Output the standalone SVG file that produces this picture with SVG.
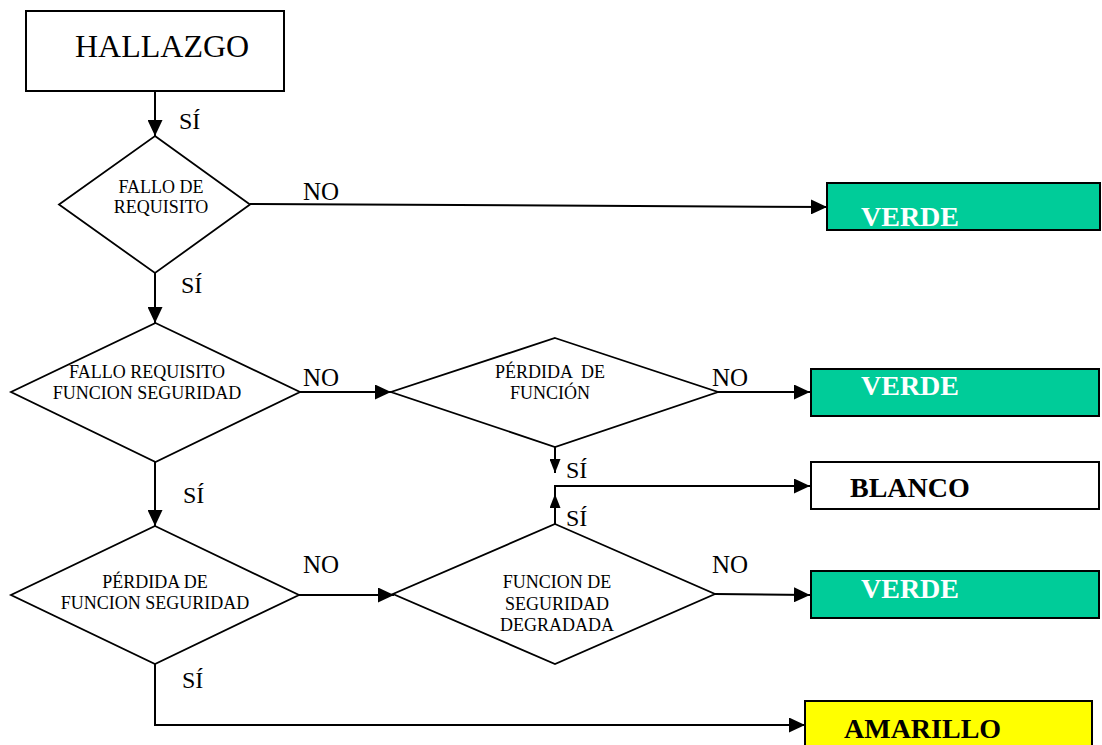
<svg xmlns="http://www.w3.org/2000/svg" width="1102" height="745" viewBox="0 0 1102 745">
<style>
  .box { stroke: #000; stroke-width: 2; }
  .dia { fill: #fff; stroke: #000; stroke-width: 1.8; }
  .conn { fill: none; stroke: #000; stroke-width: 2; }
  .t { font-family: "Liberation Serif", "Times New Roman", serif; fill: #000; }
  .dt { font-size: 18px; text-anchor: middle; }
  .si { font-size: 24px; }
  .no { font-size: 25px; }
  .res { font-size: 28px; font-weight: bold; }
</style>
<defs>
  <marker id="arr" markerUnits="userSpaceOnUse" markerWidth="16" markerHeight="15" refX="16" refY="7.5" orient="auto">
    <path d="M0,0 L16,7.5 L0,15 z" fill="#000"/>
  </marker>
  <marker id="arrs" markerUnits="userSpaceOnUse" markerWidth="14" markerHeight="11" refX="14" refY="5.5" orient="auto">
    <path d="M0,0 L14,5.5 L0,11 z" fill="#000"/>
  </marker>
</defs>
<rect width="1102" height="745" fill="#fff"/>

<g id="connectors">
  <path class="conn" d="M155,91 L155,136" marker-end="url(#arr)"/>
  <path class="conn" d="M250,204 L827,207" marker-end="url(#arr)"/>
  <path class="conn" d="M155,273 L155,323" marker-end="url(#arr)"/>
  <path class="conn" d="M300,392 L391,392" marker-end="url(#arr)"/>
  <path class="conn" d="M718,392 L810,392" marker-end="url(#arr)"/>
  <path class="conn" d="M555,447 L555,473" stroke-width="1.2" marker-end="url(#arrs)"/>
  <path class="conn" d="M555,524 L555,494" marker-end="url(#arrs)"/>
  <path class="conn" d="M555,495 L555,485"/>
  <path class="conn" d="M555,486 L810,486" marker-end="url(#arr)"/>
  <path class="conn" d="M155,462 L155,526" marker-end="url(#arr)"/>
  <path class="conn" d="M299,595 L394,595" marker-end="url(#arr)"/>
  <path class="conn" d="M715,594 L810,595" marker-end="url(#arr)"/>
  <path class="conn" d="M155,664 L155,725 L805,725" marker-end="url(#arr)"/>
  <g class="t">
    <text class="si" x="179" y="129">SÍ</text>
    <text class="si" x="181" y="293">SÍ</text>
    <text class="si" x="183" y="503">SÍ</text>
    <text class="si" x="182" y="688">SÍ</text>
    <text class="si" x="566" y="478">SÍ</text>
    <text class="si" x="566" y="526">SÍ</text>
    <text class="no" x="303" y="200">NO</text>
    <text class="no" x="303" y="386">NO</text>
    <text class="no" x="712" y="386">NO</text>
    <text class="no" x="303" y="573">NO</text>
    <text class="no" x="712" y="573">NO</text>
  </g>
</g>

<g id="hallazgo">
  <rect class="box" x="26" y="11" width="258" height="80" fill="#fff"/>
  <text class="t" x="75" y="57" font-size="32">HALLAZGO</text>
</g>

<g id="fallo-requisito">
  <polygon class="dia" points="155,136 250,204.5 155,273 59,204.5"/>
  <text class="t dt" x="161" y="193">FALLO DE</text>
  <text class="t dt" x="161" y="213">REQUISITO</text>
</g>

<g id="fallo-requisito-funcion">
  <polygon class="dia" points="155.5,323 300,392 155.5,462 11,392"/>
  <text class="t dt" x="147" y="378">FALLO REQUISITO</text>
  <text class="t dt" x="147" y="399">FUNCION SEGURIDAD</text>
</g>

<g id="perdida-funcion">
  <polygon class="dia" points="555,338 718,392 555,447 391,392"/>
  <text class="t dt" x="550" y="378" xml:space="preserve">PÉRDIDA  DE</text>
  <text class="t dt" x="550" y="399">FUNCIÓN</text>
</g>

<g id="perdida-funcion-seguridad">
  <polygon class="dia" points="155,526 299,595 155,664 11,595"/>
  <text class="t dt" x="155" y="588">PÉRDIDA DE</text>
  <text class="t dt" x="155" y="609">FUNCION SEGURIDAD</text>
</g>

<g id="funcion-degradada">
  <polygon class="dia" points="555,524 715,594 555,664 393,594"/>
  <text class="t dt" x="557" y="588">FUNCION DE</text>
  <text class="t dt" x="557" y="610">SEGURIDAD</text>
  <text class="t dt" x="557" y="631">DEGRADADA</text>
</g>

<g id="verde-1">
  <rect class="box" x="827" y="183" width="273" height="47" fill="#00CC99"/>
  <text class="t res" x="861" y="226" style="fill:#fff">VERDE</text>
</g>

<g id="verde-2">
  <rect class="box" x="811" y="369" width="288" height="47" fill="#00CC99"/>
  <text class="t res" x="861" y="395" style="fill:#fff">VERDE</text>
</g>

<g id="blanco">
  <rect class="box" x="811" y="462" width="288" height="47" fill="#fff"/>
  <text class="t res" x="850" y="497">BLANCO</text>
</g>

<g id="verde-3">
  <rect class="box" x="811" y="571" width="288" height="47" fill="#00CC99"/>
  <text class="t res" x="861" y="598" style="fill:#fff">VERDE</text>
</g>

<g id="amarillo">
  <rect class="box" x="805" y="701" width="287" height="50" fill="#FFFF00"/>
  <text class="t res" x="844" y="738">AMARILLO</text>
</g>
</svg>
